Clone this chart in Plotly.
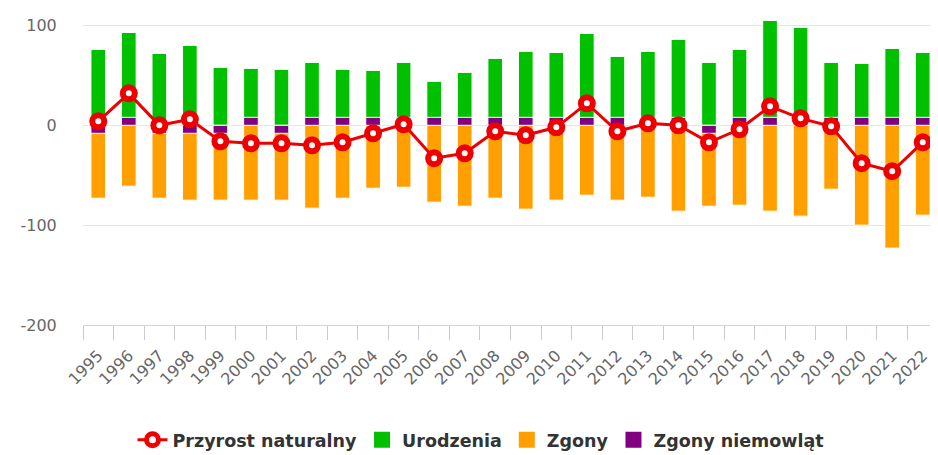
import plotly.graph_objects as go

lata = [str(y) for y in range(1995, 2023)]
urodzenia = [76, 93, 72, 80, 58, 57, 56, 63, 56, 55, 63, 44, 53, 67, 74, 73, 92, 69, 74, 86, 63, 76, 105, 98, 63, 62, 77, 73]
zgony = [72, 61, 72, 74, 74, 75, 74, 83, 73, 63, 62, 77, 81, 73, 84, 75, 70, 75, 72, 86, 80, 80, 86, 91, 64, 100, 123, 90]
zgony_niemowlat = [1, 0, 1, 1, 1, 0, 1, 0, 0, 0, 0, 0, 0, 0, 0, 0, 0, 0, 0, 0, 1, 0, 0, 0, 0, 0, 0, 0]
przyrost = [4, 32, 0, 6, -16, -18, -18, -20, -17, -8, 1, -33, -28, -6, -10, -2, 22, -6, 2, 0, -17, -4, 19, 7, -1, -38, -46, -17]
y_ticks = [-200, -100, 0, 100]

MIN_LEN = 8  # minimum drawn bar length (like Highcharts minPointLength)

GREEN = "#00c000"
ORANGE = "#ffa000"
PURPLE = "#800080"
RED = "#ee0000"
FONT = "DejaVu Sans"

neg_deaths = [-d for d in zgony]
neg_infant = [-v for v in zgony_niemowlat]
infant_drawn = [MIN_LEN if v == 0 else (-MIN_LEN if v > -MIN_LEN else v) for v in neg_infant]

fig = go.Figure()
fig.add_trace(go.Bar(x=lata, y=urodzenia, name="Urodzenia", marker=dict(color=GREEN, line=dict(color="white", width=1)), showlegend=False))
fig.add_trace(go.Bar(x=lata, y=neg_deaths, base=neg_infant, name="Zgony", marker=dict(color=ORANGE, line=dict(color="white", width=1)), showlegend=False))
fig.add_trace(go.Bar(x=lata, y=infant_drawn, name="Zgony niemowląt", marker=dict(color=PURPLE, line=dict(color="white", width=1)), showlegend=False))
fig.add_trace(go.Scatter(x=lata, y=przyrost, mode="lines+markers", name="Przyrost naturalny",
                         line=dict(color=RED, width=3),
                         marker=dict(size=12, color="white", line=dict(color=RED, width=6))))
# legend entries
for nm, col in [("Urodzenia", GREEN), ("Zgony", ORANGE), ("Zgony niemowląt", PURPLE)]:
    fig.add_trace(go.Scatter(x=[None], y=[None], mode="markers", name=nm,
                             marker=dict(symbol="square", size=16, color=col)))

fig.update_layout(
    width=930, height=447, autosize=False,
    margin=dict(l=75, r=0, t=0, b=130, autoexpand=False),
    plot_bgcolor="white", paper_bgcolor="white",
    barmode="overlay", bargap=0.52,
    font=dict(family=FONT, color="#666666", size=16),
    legend=dict(orientation="h", xref="container", yref="container", x=0.5086, xanchor="center", y=0.034, yanchor="middle",
                font=dict(family=FONT, size=17.5, color="#333333", weight="bold"),
                itemsizing="trace"),
)
fig.update_xaxes(type="category", range=[-0.5, len(lata) - 0.5], tickangle=-45, ticks="outside", tickson="boundaries", ticklen=14,
                 tickcolor="#c4ccd8", showline=True, linecolor="#ccd6eb", showgrid=False, automargin=False,
                 ticklabelstandoff=14,
                 tickfont=dict(family=FONT, size=16, color="#666666"))
fig.update_yaxes(range=[-200, 117.5], tickvals=y_ticks, ticktext=[str(v) for v in y_ticks], automargin=False,
                 gridcolor="#e6e6e6", zeroline=True, zerolinecolor="#e6e6e6", zerolinewidth=1,
                 ticks="outside", ticklen=22, tickcolor="rgba(0,0,0,0)",
                 tickfont=dict(family=FONT, size=16, color="#666666"))

fig.write_html("out.html")
